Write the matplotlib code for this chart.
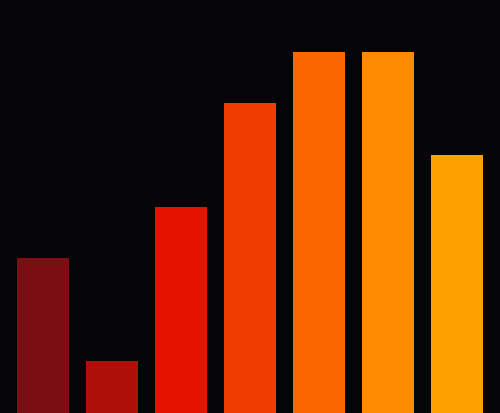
import matplotlib
matplotlib.use("Agg")
import matplotlib.pyplot as plt

categories = ["A", "B", "C", "D", "E", "F", "G"]
values = [3, 1, 4, 6, 7, 7, 5]
colors = ["#7b0e13", "#ae0f08", "#e31300", "#f03c00", "#fa6600", "#ff8c00", "#ffa000"]

fig = plt.figure(figsize=(5.0, 4.14), dpi=100, facecolor="#050407")
ax = fig.add_axes([0, 0, 1, 1])
ax.set_facecolor("#050407")
x = list(range(len(categories)))
ax.bar(x, values, width=0.75, color=colors, linewidth=0)
ax.set_xlim(-0.623, 6.623)
ax.set_ylim(0, 8.02)
ax.axis("off")
fig.savefig("out.png", dpi=100, facecolor=fig.get_facecolor())
